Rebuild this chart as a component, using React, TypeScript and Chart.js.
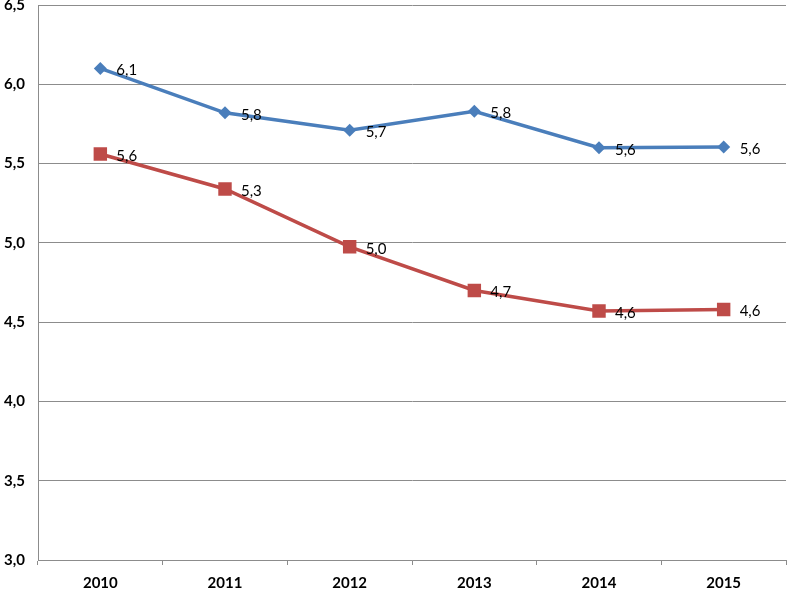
import React, { useEffect, useRef } from "react";
import { Chart, registerables } from "chart.js";

Chart.register(...registerables);

const categories = ["2010", "2011", "2012", "2013", "2014", "2015"];
const seriesBlue = [6.1, 5.82, 5.71, 5.83, 5.6, 5.605];
const seriesRed = [5.56, 5.34, 4.975, 4.7, 4.57, 4.58];
const yTicks = [3.0, 3.5, 4.0, 4.5, 5.0, 5.5, 6.0, 6.5];

const fmt = (v: number) => v.toFixed(1).replace(".", ",");

const labelPlugin = {
  id: "pointLabels",
  afterDatasetsDraw(chart: any) {
    const ctx = chart.ctx;
    ctx.save();
    ctx.font = "15px Lato";
    ctx.fillStyle = "#000";
    ctx.textAlign = "left";
    ctx.textBaseline = "middle";
    chart.data.datasets.forEach((ds: any, i: number) => {
      const meta = chart.getDatasetMeta(i);
      meta.data.forEach((pt: any, j: number) => {
        ctx.fillText(fmt(ds.data[j]), pt.x + 16, pt.y + 2);
      });
    });
    ctx.restore();
  },
};

export default function App() {
  const ref = useRef<HTMLCanvasElement>(null);
  useEffect(() => {
    const chart = new Chart(ref.current!, {
      type: "line",
      data: {
        labels: categories,
        datasets: [
          {
            label: "A",
            data: seriesBlue,
            borderColor: "#4A7EBB",
            backgroundColor: "#4A7EBB",
            borderWidth: 3.5,
            pointStyle: "rectRot",
            pointRadius: 6.5,
            pointBorderWidth: 0,
            tension: 0,
          },
          {
            label: "B",
            data: seriesRed,
            borderColor: "#BE4B48",
            backgroundColor: "#BE4B48",
            borderWidth: 3.5,
            pointStyle: "rect",
            pointRadius: 9.5,
            pointBorderWidth: 0,
            tension: 0,
          },
        ],
      },
      options: {
        animation: false,
        responsive: true,
        maintainAspectRatio: false,
        layout: { autoPadding: false, padding: { top: 5, right: 1, left: 0, bottom: 0 } },
        plugins: { legend: { display: false }, tooltip: { enabled: false } },
        scales: {
          x: {
            offset: true,
            grid: {
              offset: true,
              drawOnChartArea: false,
              drawTicks: true,
              tickLength: 5,
              color: "#8c8c8c",
            },
            border: { display: true, color: "#8c8c8c" },
            ticks: {
              color: "#000",
              font: { family: "Lato", size: 15, weight: "bold" },
              padding: 9,
              maxRotation: 0,
            },
            afterFit(scale: any) {
              scale.height = 29;
              scale.paddingLeft = 0;
              scale.paddingRight = 0;
            },
          },
          y: {
            min: 3,
            max: 6.5,
            afterBuildTicks(scale: any) {
              scale.ticks = yTicks.map((v) => ({ value: v }));
            },
            grid: { color: "#8c8c8c", drawTicks: false },
            border: { display: true, color: "#8c8c8c" },
            ticks: {
              color: "#000",
              font: { family: "Lato", size: 15, weight: "bold" },
              padding: 13,
              callback: (v: any) => fmt(Number(v)),
            },
            afterFit(scale: any) {
              scale.width = 38;
              scale.paddingTop = 0;
              scale.paddingBottom = 0;
            },
          },
        },
      },
      plugins: [labelPlugin],
    });
    return () => chart.destroy();
  }, []);
  return (
    <div style={{ position: "absolute", left: 0, top: 0, width: 787, height: 589, background: "#fff" }}>
      <canvas ref={ref} />
    </div>
  );
}
